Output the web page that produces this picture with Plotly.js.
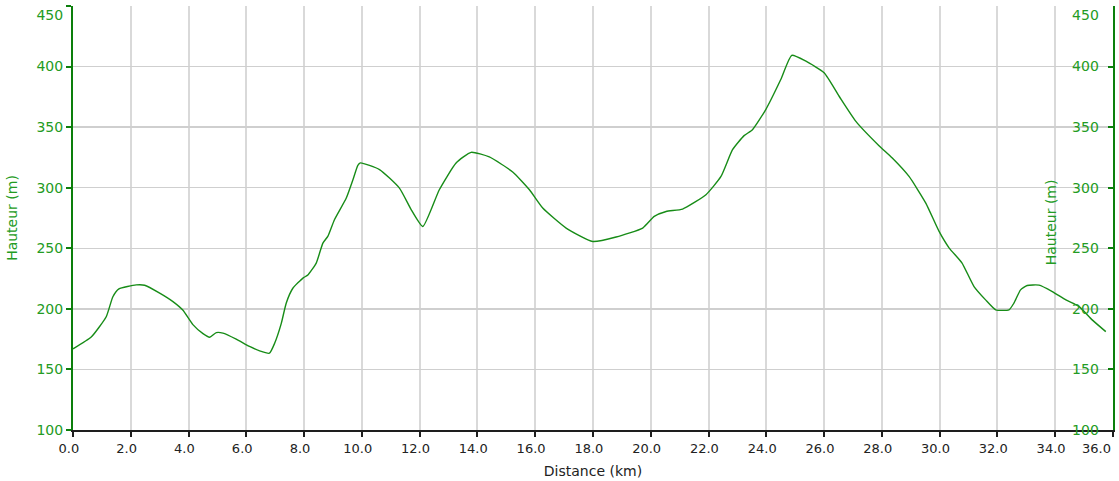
<!DOCTYPE html>
<html>
<head>
<meta charset="utf-8">
<script src="https://cdn.plot.ly/plotly-3.0.1.min.js"></script>
<style>html,body{margin:0;padding:0;background:#fff;}#chart{width:1119px;height:481px;}</style>
</head>
<body>
<div id="chart"></div>
<script>
// Distance along the route (km)
const distanceKm = [0.00,0.64,1.15,1.38,1.59,2.19,2.48,3.00,3.46,3.80,4.15,4.50,4.73,4.96,5.19,5.65,6.11,6.46,6.80,6.98,
  7.21,7.38,7.61,7.96,8.13,8.42,8.65,8.82,9.05,9.46,9.69,9.86,9.95,10.61,11.30,11.71,12.11,12.68,13.26,13.78,
  14.41,15.22,15.80,16.26,17.07,17.99,18.80,19.72,20.12,20.53,21.10,21.91,22.43,22.83,23.23,23.52,23.98,24.50,24.88,25.37,
  26.00,26.52,27.10,27.90,28.36,28.94,29.52,29.98,30.33,30.77,31.19,31.59,31.94,32.40,32.57,32.80,33.03,33.44,33.90,34.37,
  34.83,35.28,35.75];
// Elevation (m)
const elevationM = [167,177,193.5,210,216.5,219.8,219.5,213,206,199,187,179.5,176.6,180.4,180,175,169,165.3,163.4,171.6,
  188,204.7,217,225.4,228,237.8,254.3,259.8,273.6,291.5,306.6,318.5,320.5,315,299.7,281.8,268,298.3,320.4,329.2,
  325.4,313,298.3,283.2,266.7,255.6,259.3,266.7,276.3,280.4,282.4,294.2,309.3,331.4,343,347.9,364.5,389.3,409.3,404.4,
  394.8,375.5,354.8,334.7,324.5,309.3,287.3,263.9,250.2,238,218.4,207.4,199.2,199.2,204.7,215.7,219.3,219.6,214.3,207.4,
  201.9,190.9,181.2];

const xTickVals = [0,2,4,6,8,10,12,14,16,18,20,22,24,26,28,30,32,34,36];
const xTickLabels = ["0.0","2.0","4.0","6.0","8.0","10.0","12.0","14.0","16.0","18.0","20.0","22.0","24.0","26.0","28.0","30.0","32.0","34.0","36.0"];
const yTickVals = [100,150,200,250,300,350,400,450];
const yTickLabels = ["100","150","200","250","300","350","400","450"];
const xTitle = "Distance (km)";
const yTitle = "Hauteur (m)";

const NB = "\u00a0";
const lastX = xTickLabels.length - 1;
// the last label is drawn right-aligned against the edge (annotation below)
const xTickText = xTickLabels.map((t, i) => i === lastX ? "" : t + NB + NB);
// top label pushed down inside the chart, as in the original
const yTickText = yTickLabels.map((t, i) => i === yTickLabels.length - 1 ? "<br>" + t : t);

const FONT = "DejaVu Sans, Verdana, sans-serif";
const GREEN_LINE = "#0c7f0c";
const GREEN_TEXT = "#239b23";

const trace = {
  x: distanceKm, y: elevationM, type: "scatter", mode: "lines",
  line: {color: "#178c17", width: 1.4, shape: "spline", smoothing: 0.5},
  hoverinfo: "x+y", showlegend: false
};
// empty trace only to bring up the right-hand axis
const rightAxisHolder = {
  x: [], y: [], type: "scatter", mode: "lines", yaxis: "y2",
  hoverinfo: "skip", showlegend: false
};

const layout = {
  width: 1119, height: 481,
  margin: {l: 73, r: 6, t: 6, b: 51, pad: 0},
  paper_bgcolor: "#ffffff", plot_bgcolor: "#ffffff",
  font: {family: FONT, size: 13, color: "#222"},
  showlegend: false,
  xaxis: {
    range: [0, 36], tickmode: "array", tickvals: xTickVals, ticktext: xTickText,
    showgrid: true, gridcolor: "#d9d9d9", gridwidth: 2,
    showline: true, linecolor: "#1e1e1e", linewidth: 2,
    ticks: "outside", ticklen: 5, tickwidth: 2, tickcolor: "#1e1e1e",
    tickfont: {family: FONT, size: 13, color: "#222"},
    zeroline: false,
    title: {text: xTitle, font: {family: FONT, size: 14, color: "#222"}, standoff: 12}
  },
  yaxis: {
    range: [100, 450], tickmode: "array", tickvals: yTickVals, ticktext: yTickText,
    showgrid: true, gridcolor: "#cfcfcf", gridwidth: 1.5,
    showline: true, linecolor: GREEN_LINE, linewidth: 2,
    ticks: "outside", ticklen: 5, tickwidth: 2, tickcolor: GREEN_LINE,
    tickfont: {family: FONT, size: 14, color: GREEN_TEXT},
    ticklabeloverflow: "allow",
    zeroline: false,
    title: {text: yTitle, font: {family: FONT, size: 14, color: GREEN_TEXT}, standoff: 16}
  },
  yaxis2: {
    overlaying: "y", side: "right", anchor: "x",
    range: [100, 450], tickmode: "array", tickvals: yTickVals, ticktext: yTickText,
    showgrid: false, showline: true, linecolor: GREEN_LINE, linewidth: 2,
    ticks: "inside", ticklen: 5, tickwidth: 2, tickcolor: GREEN_LINE,
    ticklabelposition: "inside", ticklabeloverflow: "allow", ticklabelstandoff: 9,
    tickfont: {family: FONT, size: 14, color: GREEN_TEXT},
    zeroline: false
  },
  annotations: [{
    text: yTitle, xref: "paper", yref: "paper", x: 0.9404, y: 0.49,
    xanchor: "center", yanchor: "middle", textangle: -90, showarrow: false,
    font: {family: FONT, size: 14, color: GREEN_TEXT}
  }, {
    text: xTickLabels[lastX], xref: "x", yref: "paper", x: xTickVals[lastX], y: 0,
    xanchor: "right", yanchor: "top", yshift: -9, xshift: 0, showarrow: false,
    font: {family: FONT, size: 13, color: "#222"}
  }]
};

Plotly.newPlot("chart", [trace, rightAxisHolder], layout, {staticPlot: true, displayModeBar: false});
</script>
</body>
</html>
